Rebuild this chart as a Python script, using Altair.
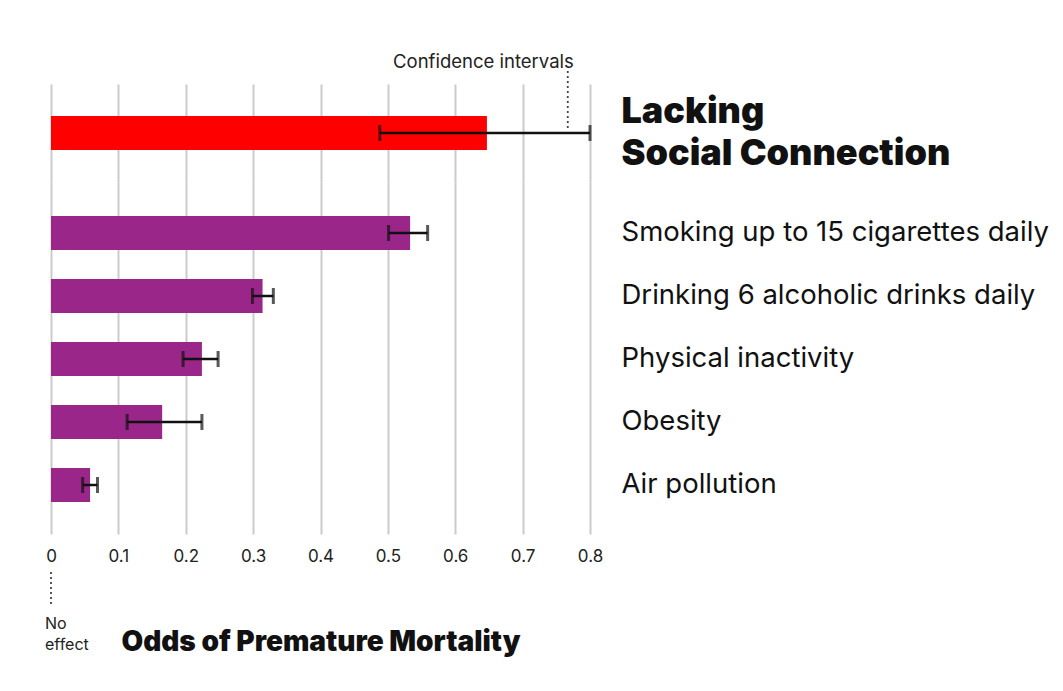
import altair as alt
import pandas as pd

# ---- data ----
top_category = ["Lacking|Social Connection"]
top_value = [0.647]
top_low = [0.488]
top_high = [0.800]

categories = [
    "Smoking up to 15 cigarettes daily",
    "Drinking 6 alcoholic drinks daily",
    "Physical inactivity",
    "Obesity",
    "Air pollution",
]
values = [0.533, 0.314, 0.224, 0.165, 0.058]
ci_low = [0.501, 0.299, 0.196, 0.113, 0.047]
ci_high = [0.559, 0.330, 0.248, 0.224, 0.069]

x_ticks = [0, 0.1, 0.2, 0.3, 0.4, 0.5, 0.6, 0.7, 0.8]

ci_note_x = [0.767]
ci_note_text = ["Confidence intervals"]
no_effect_x = [0]
no_effect_text = ["No\neffect"]

FONT = "Inter"
RED = "#fe0000"
PURPLE = "#9b2689"
GRID = "#cbcbcb"
INK = "#111111"

top_df = pd.DataFrame({"cat": top_category, "value": top_value, "lo": top_low, "hi": top_high})
bot_df = pd.DataFrame({"cat": categories, "value": values, "lo": ci_low, "hi": ci_high})
ci_df = pd.DataFrame({"x": ci_note_x, "label": ci_note_text})
ne_df = pd.DataFrame({"x": no_effect_x, "label": no_effect_text})

xscale = alt.Scale(domain=[0, 0.8], nice=False, zero=True)

# ---------- top panel ----------
top_y = alt.Y(
    "cat:N",
    sort=top_category,
    scale=alt.Scale(paddingInner=0, paddingOuter=0),
    axis=alt.Axis(
        orient="right", title=None, ticks=False, domain=False,
        labelAlign="left", labelPadding=31, labelFont=FONT,
        labelFontSize=36, labelFontWeight=900, labelColor=INK,
        labelLimit=800, labelLineHeight=42, labelBaseline="middle",
        labelOffset=-21,
        labelExpr="split(datum.label, '|')",
    ),
)
top_x_axis = alt.Axis(
    orient="top", values=x_ticks, labels=False, ticks=False, domain=False,
    title=None, grid=True, gridColor=GRID, gridWidth=2,
)

top_base = alt.Chart(top_df)
top_bar = top_base.mark_bar(color=RED, height=34).encode(
    x=alt.X("value:Q", scale=xscale, axis=top_x_axis), y=top_y
)
top_err = top_base.mark_rule(color=INK, strokeWidth=2.5).encode(x="lo:Q", x2="hi:Q", y=top_y)
top_cap_lo = top_base.mark_tick(color=INK, thickness=3, size=16).encode(x="lo:Q", y=top_y)
top_cap_hi = top_base.mark_tick(color=INK, thickness=3, size=16).encode(x="hi:Q", y=top_y)

ci_base = alt.Chart(ci_df)
ci_line = ci_base.mark_rule(color="#444444", strokeWidth=1.8, strokeDash=[2, 3]).encode(
    x="x:Q", y=alt.value(-13), y2=alt.value(44)
)
ci_text = ci_base.mark_text(
    align="right", baseline="middle", dx=6,
    font=FONT, fontSize=18.5, fontWeight=400, color="#222222",
).encode(x="x:Q", y=alt.value(-22), text="label:N")

top = alt.layer(top_bar, top_err, top_cap_lo, top_cap_hi, ci_line, ci_text).properties(
    width=539, height=98
)

# ---------- bottom panel ----------
bot_y = alt.Y(
    "cat:N",
    sort=categories,
    scale=alt.Scale(paddingInner=0, paddingOuter=0.2937, align=0.527),
    axis=alt.Axis(
        orient="right", title=None, ticks=False, domain=False,
        labelAlign="left", labelPadding=31, labelFont=FONT,
        labelFontSize=27.5, labelColor=INK, labelLimit=800,
    ),
)
bot_x_axis = alt.Axis(
    values=x_ticks, format="~g", ticks=False, domain=False, labelFlush=False,
    grid=True, gridColor=GRID, gridWidth=2,
    labelFont=FONT, labelFontSize=17, labelColor="#222222", labelPadding=14,
    title="Odds of Premature Mortality", titleFont=FONT, titleFontSize=28,
    titleFontWeight=900, titleColor=INK, titlePadding=64,
)

bot_base = alt.Chart(bot_df)
bot_bar = bot_base.mark_bar(color=PURPLE, height=34).encode(
    x=alt.X("value:Q", scale=xscale, axis=bot_x_axis), y=bot_y
)
bot_err = bot_base.mark_rule(color=INK, strokeWidth=2.5).encode(x="lo:Q", x2="hi:Q", y=bot_y)
bot_cap_lo = bot_base.mark_tick(color=INK, thickness=3, size=16).encode(x="lo:Q", y=bot_y)
bot_cap_hi = bot_base.mark_tick(color=INK, thickness=3, size=16).encode(x="hi:Q", y=bot_y)

ne_base = alt.Chart(ne_df)
noeff_line = ne_base.mark_rule(color="#444444", strokeWidth=1.8, strokeDash=[2, 3]).encode(
    x="x:Q", y=alt.value(390), y2=alt.value(425)
)
noeff_text = ne_base.mark_text(
    align="left", baseline="alphabetic", dx=-6, lineBreak="\n", lineHeight=21,
    font=FONT, fontSize=16, fontWeight=400, color="#222222",
).encode(x="x:Q", y=alt.value(447), text="label:N")

bottom = alt.layer(
    bot_bar, bot_err, bot_cap_lo, bot_cap_hi, noeff_line, noeff_text
).properties(width=539, height=352)

chart = (
    alt.vconcat(top, bottom, spacing=0, bounds="flush")
    .resolve_scale(x="shared", y="independent")
    .resolve_axis(x="independent", y="independent")
    .properties(padding={"left": 37, "top": 45, "right": 5, "bottom": 5}, background="white")
    .configure_view(stroke=None)
)

chart.save("out.html", embed_options={"renderer": "svg", "actions": False})
